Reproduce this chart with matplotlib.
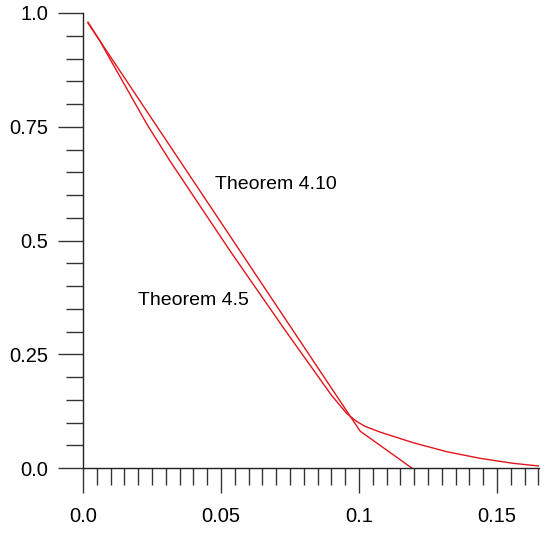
import matplotlib
matplotlib.use("Agg")
import matplotlib.pyplot as plt
import numpy as np
from matplotlib.ticker import MultipleLocator, FixedLocator

plt.rcParams["font.family"] = ["Liberation Sans", "DejaVu Sans"]

# Theorem 4.5: straight piece, kink near 0.1, hits zero at ~0.119
x_a = [0.0018, 0.1004, 0.1191]
y_a = [0.978, 0.081, 0.0]

# Theorem 4.10: bends slightly at start, then decaying tail
x_b = [0.0018, 0.0060, 0.0094, 0.0233, 0.0315, 0.0533, 0.0732, 0.0900,
       0.0955, 0.0990, 0.1020, 0.1076, 0.1196, 0.1318, 0.1438, 0.1558, 0.1652]
y_b = [0.980, 0.940, 0.903, 0.754, 0.675, 0.477, 0.303, 0.160,
       0.120, 0.103, 0.092, 0.079, 0.0556, 0.0358, 0.0213, 0.0103, 0.0044]

x_ticks = [0.0, 0.05, 0.1, 0.15]
x_labels = ["0.0", "0.05", "0.1", "0.15"]
y_ticks = [0.0, 0.25, 0.5, 0.75, 1.0]
y_labels = ["0.0", "0.25", "0.5", "0.75", "1.0"]

red = "#e3141c"

fig = plt.figure(figsize=(5.47, 5.33), dpi=100)
ax = fig.add_axes([83 / 547, 65 / 533, 456 / 547, 455 / 533])

ax.plot(x_a, y_a, color=red, lw=1.0)
ax.plot(x_b, y_b, color=red, lw=1.0)

ax.text(0.0478, 0.624, "Theorem 4.10", fontsize=14, va="center", ha="left")
ax.text(0.0199, 0.369, "Theorem 4.5", fontsize=14, va="center", ha="left")

ax.set_xlim(0, 0.1652)
ax.set_ylim(0, 1.0)

for s in ["top", "right"]:
    ax.spines[s].set_visible(False)
for s in ["left", "bottom"]:
    ax.spines[s].set_linewidth(1.0)
    ax.spines[s].set_color("#222222")

ax.xaxis.set_major_locator(FixedLocator(x_ticks))
ax.set_xticklabels(x_labels)
ax.xaxis.set_minor_locator(MultipleLocator(0.005))
ax.yaxis.set_major_locator(FixedLocator(y_ticks))
ax.set_yticklabels(y_labels)
ax.yaxis.set_minor_locator(MultipleLocator(0.05))

ax.tick_params(which="major", direction="out", length=18, width=1.0,
               color="#333333", labelsize=14.5)
ax.tick_params(which="minor", direction="out", length=12, width=1.0,
               color="#333333")
ax.tick_params(axis="x", which="major", pad=10)
ax.tick_params(axis="y", which="major", pad=7)

fig.savefig("out.png", dpi=100)
